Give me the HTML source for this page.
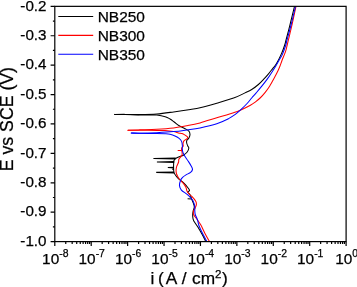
<!DOCTYPE html><html><head><meta charset="utf-8"><title>Polarization curves</title><style>html,body{margin:0;padding:0;background:#fff}body{width:357px;height:287px;overflow:hidden}</style></head><body><svg width="357" height="287" viewBox="0 0 357 287" style="display:block">
<rect width="357" height="287" fill="#fff"/>
<defs><clipPath id="c"><rect x="54.80" y="6.35" width="291.30" height="235.25"/></clipPath></defs>
<g clip-path="url(#c)" fill="none" stroke-width="1.05" stroke-linejoin="round" stroke-linecap="round">
<path stroke="#000" d="M114.70,114.40 C116.42,114.40 120.78,114.37 125.00,114.40 C129.22,114.43 134.70,114.67 140.00,114.60 C145.30,114.53 151.20,114.45 156.80,114.00 C162.40,113.55 168.00,112.67 173.60,111.90 C179.20,111.13 186.00,110.10 190.40,109.40 C194.80,108.70 195.60,108.73 200.00,107.70 C204.40,106.67 211.20,104.80 216.80,103.20 C222.40,101.60 228.90,99.82 233.60,98.10 C238.30,96.38 241.98,94.33 245.00,92.90 C248.02,91.47 249.47,90.90 251.70,89.50 C253.93,88.10 256.35,86.27 258.40,84.50 C260.45,82.73 262.32,80.68 264.00,78.90 C265.68,77.12 267.08,75.48 268.50,73.80 C269.92,72.12 271.18,70.47 272.50,68.80 C273.82,67.13 274.88,66.37 276.40,63.80 C277.92,61.23 280.22,56.53 281.60,53.40 C282.98,50.27 283.96,47.23 284.70,45.00 C285.44,42.77 285.13,43.50 286.05,40.00 C286.97,36.50 288.79,29.62 290.20,24.00 C291.61,18.38 293.78,9.25 294.50,6.30"/>
<path stroke="#000" d="M114.70,114.40 C116.42,114.43 120.78,114.52 125.00,114.60 C129.22,114.68 135.83,114.85 140.00,114.90 C144.17,114.95 147.20,114.88 150.00,114.90 C152.80,114.92 154.27,114.70 156.80,115.00 C159.33,115.30 163.00,116.03 165.20,116.70 C167.40,117.37 168.50,118.12 170.00,119.00 C171.50,119.88 172.67,120.87 174.20,122.00 C175.73,123.13 177.38,124.68 179.20,125.80 C181.02,126.92 183.48,127.80 185.10,128.70 C186.72,129.60 188.08,130.22 188.90,131.20 C189.72,132.18 190.00,133.47 190.00,134.60 C190.00,135.73 189.43,137.02 188.90,138.00 C188.37,138.98 187.17,139.67 186.80,140.50 C186.43,141.33 186.53,142.08 186.70,143.00 C186.87,143.92 187.45,145.13 187.80,146.00 C188.15,146.87 188.90,147.20 188.80,148.20 C188.70,149.20 188.10,150.83 187.20,152.00 C186.30,153.17 184.43,154.52 183.40,155.20 C182.37,155.88 181.98,155.72 181.00,156.10 C180.02,156.48 178.43,157.08 177.50,157.50 C176.57,157.92 175.98,158.10 175.40,158.60 C174.82,159.10 174.28,159.85 174.00,160.50 C173.72,161.15 173.77,161.25 173.70,162.50 C173.63,163.75 173.55,166.32 173.60,168.00 C173.65,169.68 173.55,171.23 174.00,172.60 C174.45,173.97 175.57,175.18 176.30,176.20 C177.03,177.22 177.13,177.55 178.40,178.70 C179.67,179.85 182.25,181.52 183.90,183.10 C185.55,184.68 187.35,186.93 188.30,188.20 C189.25,189.47 189.70,190.07 189.60,190.70 C189.50,191.33 187.60,191.27 187.70,192.00 C187.80,192.73 189.55,193.95 190.20,195.10 C190.85,196.25 191.08,197.55 191.60,198.90 C192.12,200.25 192.85,201.87 193.30,203.20 C193.75,204.53 194.30,205.72 194.30,206.90 C194.30,208.08 193.57,209.03 193.30,210.30 C193.03,211.57 192.77,213.22 192.70,214.50 C192.63,215.78 192.72,216.93 192.90,218.00 C193.08,219.07 193.00,219.43 193.80,220.90 C194.60,222.37 196.30,224.52 197.70,226.80 C199.10,229.08 200.83,232.10 202.20,234.60 C203.57,237.10 205.28,240.60 205.90,241.80"/>
<polygon fill="#000" stroke="none" points="153.40,157.90 175.60,157.50 175.60,159.50 153.40,159.10"/>
<polygon fill="#000" stroke="none" points="156.90,161.40 174.20,161.00 174.20,163.00 156.90,162.60"/>
<polygon fill="#000" stroke="none" points="167.80,167.10 174.00,166.75 174.00,168.45 167.80,168.10"/>
<polygon fill="#000" stroke="none" points="172.20,168.70 174.00,168.35 174.00,170.05 172.20,169.70"/>
<polygon fill="#000" stroke="none" points="156.20,171.80 174.20,171.40 174.20,173.40 156.20,173.00"/>
<path stroke="#000" stroke-linecap="butt" d="M187.60,198.80 L191.50,199.10"/>
<path stroke="#f00" d="M128.00,130.25 C130.00,130.18 135.20,130.02 140.00,129.85 C144.80,129.68 151.20,129.57 156.80,129.25 C162.40,128.93 168.55,128.49 173.60,127.90 C178.65,127.31 182.70,126.53 187.10,125.70 C191.50,124.87 195.05,124.22 200.00,122.90 C204.95,121.58 211.20,119.50 216.80,117.80 C222.40,116.10 229.68,113.97 233.60,112.70 C237.52,111.43 237.50,111.45 240.30,110.20 C243.10,108.95 247.87,106.60 250.40,105.20 C252.93,103.80 253.88,103.00 255.50,101.80 C257.12,100.60 258.48,99.58 260.10,98.00 C261.72,96.42 263.62,94.27 265.20,92.30 C266.78,90.33 268.12,88.53 269.60,86.20 C271.08,83.87 272.68,80.92 274.10,78.30 C275.52,75.68 277.12,72.55 278.10,70.50 C279.08,68.45 279.37,67.63 280.00,66.00 C280.63,64.37 280.97,63.15 281.90,60.70 C282.83,58.25 284.72,53.92 285.60,51.30 C286.48,48.68 286.73,46.88 287.20,45.00 C287.67,43.12 287.57,43.50 288.40,40.00 C289.23,36.50 290.93,29.62 292.20,24.00 C293.47,18.38 295.37,9.25 296.00,6.30"/>
<path stroke="#f00" d="M128.00,130.25 C130.00,130.26 135.20,130.28 140.00,130.30 C144.80,130.33 152.63,130.35 156.80,130.40 C160.97,130.45 162.20,130.40 165.00,130.60 C167.80,130.80 171.37,131.22 173.60,131.60 C175.83,131.98 177.00,132.57 178.40,132.90 C179.80,133.23 181.02,133.32 182.00,133.60 C182.98,133.88 183.37,134.02 184.30,134.60 C185.23,135.18 187.18,136.40 187.60,137.10 C188.02,137.80 187.42,138.17 186.80,138.80 C186.18,139.43 184.53,140.07 183.90,140.90 C183.27,141.73 183.12,142.95 183.00,143.80 C182.88,144.65 183.45,145.15 183.20,146.00 C182.95,146.85 181.68,147.80 181.50,148.90 C181.32,150.00 182.05,151.48 182.10,152.60 C182.15,153.72 182.33,154.50 181.80,155.60 C181.27,156.70 179.43,158.13 178.90,159.20 C178.37,160.27 178.95,160.83 178.60,162.00 C178.25,163.17 177.22,164.95 176.80,166.20 C176.38,167.45 176.17,168.28 176.10,169.50 C176.03,170.72 176.08,172.25 176.40,173.50 C176.72,174.75 177.45,176.00 178.00,177.00 C178.55,178.00 178.93,178.58 179.70,179.50 C180.47,180.42 181.58,181.27 182.60,182.50 C183.62,183.73 185.05,185.43 185.80,186.90 C186.55,188.37 186.47,190.03 187.10,191.30 C187.73,192.57 188.88,193.72 189.60,194.50 C190.32,195.28 190.40,194.92 191.40,196.00 C192.40,197.08 194.77,199.60 195.60,201.00 C196.43,202.40 196.47,203.27 196.40,204.40 C196.33,205.53 195.68,206.68 195.20,207.80 C194.72,208.92 193.78,210.05 193.50,211.10 C193.22,212.15 193.32,213.25 193.50,214.10 C193.68,214.95 193.97,215.27 194.60,216.20 C195.23,217.13 196.28,218.27 197.30,219.70 C198.32,221.13 199.48,222.63 200.70,224.80 C201.92,226.97 203.12,229.87 204.60,232.70 C206.08,235.53 208.77,240.28 209.60,241.80"/>
<path stroke="#f00" stroke-linecap="butt" d="M177.70,150.40 L182.10,150.40"/>
<path stroke="#00f" d="M131.30,133.05 C132.75,133.07 135.75,133.22 140.00,133.15 C144.25,133.08 151.20,132.91 156.80,132.65 C162.40,132.39 168.55,132.06 173.60,131.60 C178.65,131.14 182.70,130.52 187.10,129.90 C191.50,129.28 195.05,128.93 200.00,127.90 C204.95,126.87 212.03,125.25 216.80,123.70 C221.57,122.15 225.52,120.15 228.60,118.60 C231.68,117.05 233.35,115.80 235.30,114.40 C237.25,113.00 238.33,112.02 240.30,110.20 C242.27,108.38 245.20,105.53 247.10,103.50 C249.00,101.47 250.18,99.77 251.70,98.00 C253.22,96.23 254.52,94.87 256.20,92.90 C257.88,90.93 259.93,88.53 261.80,86.20 C263.67,83.87 265.72,81.23 267.40,78.90 C269.08,76.57 270.50,74.35 271.90,72.20 C273.30,70.05 274.57,68.07 275.80,66.00 C277.03,63.93 278.20,61.73 279.30,59.80 C280.40,57.87 281.32,56.87 282.40,54.40 C283.48,51.93 285.03,47.40 285.80,45.00 C286.57,42.60 286.08,43.50 287.00,40.00 C287.92,36.50 289.88,29.62 291.30,24.00 C292.72,18.38 294.80,9.25 295.50,6.30"/>
<path stroke="#00f" d="M131.30,133.05 C132.75,133.09 135.75,133.22 140.00,133.30 C144.25,133.38 152.63,133.47 156.80,133.55 C160.97,133.63 162.80,133.68 165.00,133.80 C167.20,133.93 168.33,133.95 170.00,134.30 C171.67,134.65 173.53,135.25 175.00,135.90 C176.47,136.55 177.70,137.28 178.80,138.20 C179.90,139.12 181.00,140.10 181.60,141.40 C182.20,142.70 182.30,144.90 182.40,146.00 C182.50,147.10 182.10,146.90 182.20,148.00 C182.30,149.10 182.58,151.27 183.00,152.60 C183.42,153.93 183.85,154.60 184.70,156.00 C185.55,157.40 187.05,159.38 188.10,161.00 C189.15,162.62 190.27,164.30 191.00,165.70 C191.73,167.10 192.57,168.28 192.50,169.40 C192.43,170.52 191.68,171.48 190.60,172.40 C189.52,173.32 187.33,174.07 186.00,174.90 C184.67,175.73 183.52,176.47 182.60,177.40 C181.68,178.33 181.02,179.13 180.50,180.50 C179.98,181.87 179.35,184.00 179.50,185.60 C179.65,187.20 180.25,188.73 181.40,190.10 C182.55,191.47 185.15,192.82 186.40,193.80 C187.65,194.78 187.85,194.93 188.90,196.00 C189.95,197.07 191.80,198.80 192.70,200.20 C193.60,201.60 193.95,203.13 194.30,204.40 C194.65,205.67 194.72,206.68 194.80,207.80 C194.88,208.92 194.73,209.98 194.80,211.10 C194.87,212.22 194.95,213.52 195.20,214.50 C195.45,215.48 195.88,216.00 196.30,217.00 C196.72,218.00 197.27,219.08 197.70,220.50 C198.13,221.92 198.08,223.32 198.90,225.50 C199.72,227.68 201.23,230.88 202.60,233.60 C203.97,236.32 206.35,240.43 207.10,241.80"/>
</g>
<g stroke="#000" stroke-width="1.2" fill="none">
<rect x="54.80" y="6.35" width="291.30" height="235.25"/>
<path d="M54.80,6.35 H50.60 M54.80,21.05 H52.90 M54.80,35.76 H50.60 M54.80,50.46 H52.90 M54.80,65.16 H50.60 M54.80,79.87 H52.90 M54.80,94.57 H50.60 M54.80,109.27 H52.90 M54.80,123.97 H50.60 M54.80,138.68 H52.90 M54.80,153.38 H50.60 M54.80,168.08 H52.90 M54.80,182.79 H50.60 M54.80,197.49 H52.90 M54.80,212.19 H50.60 M54.80,226.90 H52.90 M54.80,241.60 H50.60 M54.80,241.60 V246.10 M65.76,241.60 V243.90 M72.17,241.60 V243.90 M76.72,241.60 V243.90 M80.25,241.60 V243.90 M83.13,241.60 V243.90 M85.57,241.60 V243.90 M87.68,241.60 V243.90 M89.55,241.60 V243.90 M91.21,241.60 V246.10 M102.17,241.60 V243.90 M108.59,241.60 V243.90 M113.14,241.60 V243.90 M116.66,241.60 V243.90 M119.55,241.60 V243.90 M121.98,241.60 V243.90 M124.10,241.60 V243.90 M125.96,241.60 V243.90 M127.62,241.60 V246.10 M138.59,241.60 V243.90 M145.00,241.60 V243.90 M149.55,241.60 V243.90 M153.08,241.60 V243.90 M155.96,241.60 V243.90 M158.40,241.60 V243.90 M160.51,241.60 V243.90 M162.37,241.60 V243.90 M164.04,241.60 V246.10 M175.00,241.60 V243.90 M181.41,241.60 V243.90 M185.96,241.60 V243.90 M189.49,241.60 V243.90 M192.37,241.60 V243.90 M194.81,241.60 V243.90 M196.92,241.60 V243.90 M198.78,241.60 V243.90 M200.45,241.60 V246.10 M211.41,241.60 V243.90 M217.82,241.60 V243.90 M222.37,241.60 V243.90 M225.90,241.60 V243.90 M228.78,241.60 V243.90 M231.22,241.60 V243.90 M233.33,241.60 V243.90 M235.20,241.60 V243.90 M236.86,241.60 V246.10 M247.82,241.60 V243.90 M254.24,241.60 V243.90 M258.79,241.60 V243.90 M262.31,241.60 V243.90 M265.20,241.60 V243.90 M267.63,241.60 V243.90 M269.75,241.60 V243.90 M271.61,241.60 V243.90 M273.28,241.60 V246.10 M284.24,241.60 V243.90 M290.65,241.60 V243.90 M295.20,241.60 V243.90 M298.73,241.60 V243.90 M301.61,241.60 V243.90 M304.05,241.60 V243.90 M306.16,241.60 V243.90 M308.02,241.60 V243.90 M309.69,241.60 V246.10 M320.65,241.60 V243.90 M327.06,241.60 V243.90 M331.61,241.60 V243.90 M335.14,241.60 V243.90 M338.02,241.60 V243.90 M340.46,241.60 V243.90 M342.57,241.60 V243.90 M344.43,241.60 V243.90 M346.10,241.60 V246.10 "/>
</g>
<g font-family="'Liberation Sans', Arial, sans-serif" fill="#000" stroke="#000" stroke-width="0.25">
<text x="46.50" y="10.65" font-size="15.2" text-anchor="end">-0.2</text>
<text x="46.50" y="40.06" font-size="15.2" text-anchor="end">-0.3</text>
<text x="46.50" y="69.46" font-size="15.2" text-anchor="end">-0.4</text>
<text x="46.50" y="98.87" font-size="15.2" text-anchor="end">-0.5</text>
<text x="46.50" y="128.28" font-size="15.2" text-anchor="end">-0.6</text>
<text x="46.50" y="157.68" font-size="15.2" text-anchor="end">-0.7</text>
<text x="46.50" y="187.09" font-size="15.2" text-anchor="end">-0.8</text>
<text x="46.50" y="216.49" font-size="15.2" text-anchor="end">-0.9</text>
<text x="46.50" y="245.90" font-size="15.2" text-anchor="end">-1.0</text>
<text x="55.30" y="264.00" font-size="15.4" text-anchor="middle">10<tspan font-size="10.4" dy="-6.7">-8</tspan></text>
<text x="91.71" y="264.00" font-size="15.4" text-anchor="middle">10<tspan font-size="10.4" dy="-6.7">-7</tspan></text>
<text x="128.12" y="264.00" font-size="15.4" text-anchor="middle">10<tspan font-size="10.4" dy="-6.7">-6</tspan></text>
<text x="164.54" y="264.00" font-size="15.4" text-anchor="middle">10<tspan font-size="10.4" dy="-6.7">-5</tspan></text>
<text x="200.95" y="264.00" font-size="15.4" text-anchor="middle">10<tspan font-size="10.4" dy="-6.7">-4</tspan></text>
<text x="237.36" y="264.00" font-size="15.4" text-anchor="middle">10<tspan font-size="10.4" dy="-6.7">-3</tspan></text>
<text x="273.78" y="264.00" font-size="15.4" text-anchor="middle">10<tspan font-size="10.4" dy="-6.7">-2</tspan></text>
<text x="310.19" y="264.00" font-size="15.4" text-anchor="middle">10<tspan font-size="10.4" dy="-6.7">-1</tspan></text>
<text x="346.60" y="264.00" font-size="15.4" text-anchor="middle">10<tspan font-size="10.4" dy="-6.7">0</tspan></text>
<path d="M58.3,16.50 H93.2" stroke="#000" stroke-width="1.15"/>
<text x="97.7" y="22.00" font-size="15.45">NB250</text>
<path d="M58.3,35.35 H93.2" stroke="#f00" stroke-width="1.15"/>
<text x="97.7" y="40.85" font-size="15.45">NB300</text>
<path d="M58.3,54.20 H93.2" stroke="#00f" stroke-width="1.15"/>
<text x="97.7" y="59.70" font-size="15.45">NB350</text>
<text y="284.3" font-size="17.3"><tspan x="150.6">i</tspan><tspan x="158.0">(</tspan><tspan x="165.7">A</tspan><tspan x="181.85">/</tspan><tspan x="192.1">cm</tspan><tspan x="214.9" dy="-6.7" font-size="11.5">2</tspan><tspan x="221.9" dy="6.7">)</tspan></text>
<text transform="translate(13.0,171.2) rotate(-90)" font-size="17.7" text-anchor="start">E vs SCE (V)</text>
</g>
</svg></body></html>
